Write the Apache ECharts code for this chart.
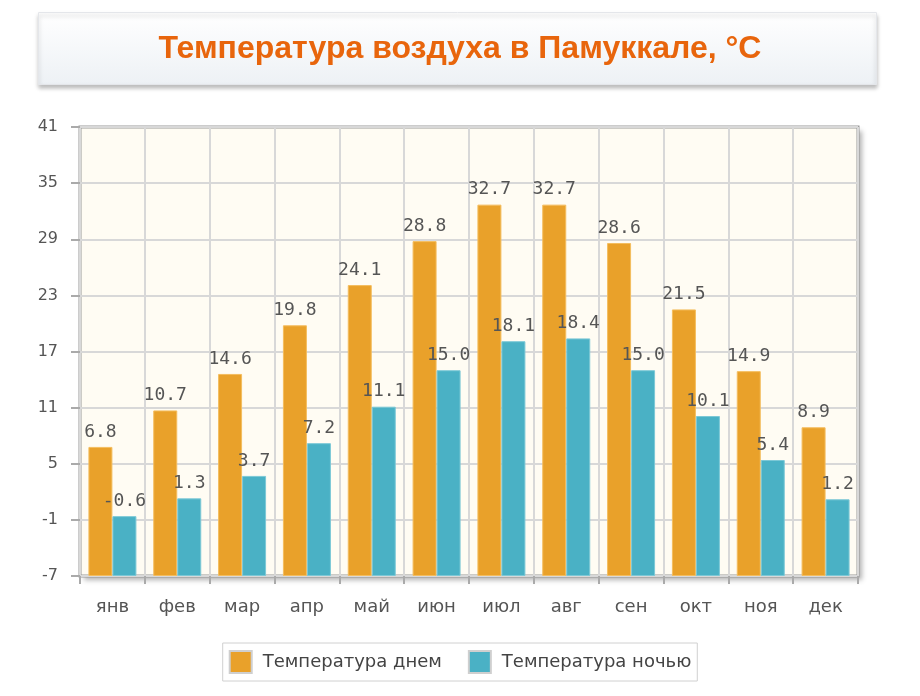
<!DOCTYPE html>
<html>
<head>
<meta charset="utf-8">
<script src="https://cdn.jsdelivr.net/npm/echarts@6/dist/echarts.min.js"></script>
<style>html,body{margin:0;padding:0;background:#fff;}#c{width:920px;height:696px;}</style>
</head>
<body>
<div id="c"></div>
<script>
const titleText = 'Температура воздуха в Памуккале, °C';
const months = ['янв','фев','мар','апр','май','июн','июл','авг','сен','окт','ноя','дек'];
const dayName = 'Температура днем';
const nightName = 'Температура ночью';
const dayTemps = [6.8, 10.7, 14.6, 19.8, 24.1, 28.8, 32.7, 32.7, 28.6, 21.5, 14.9, 8.9];
const nightTemps = [-0.6, 1.3, 3.7, 7.2, 11.1, 15.0, 18.1, 18.4, 15.0, 10.1, 5.4, 1.2];
const yMin = -7, yMax = 41, yStep = 6;

const chart = echarts.init(document.getElementById('c'), null, {renderer: 'canvas'});
const labelStyle = {
  show: true, position: 'top', distance: 6,
  fontFamily: 'DejaVu Sans Mono', fontSize: 18, color: '#555',
  formatter: p => p.value.toFixed(1)
};
chart.setOption({
  animation: false,
  graphic: [
    {
      type: 'rect', left: 38, top: 12, z: 0,
      shape: {width: 838, height: 72},
      style: {
        fill: new echarts.graphic.LinearGradient(0, 0, 0, 1, [
          {offset: 0, color: '#ffffff'}, {offset: 1, color: '#edf1f5'}
        ]),
        stroke: '#e4e6ea', lineWidth: 1,
        shadowBlur: 4, shadowOffsetY: 3, shadowColor: 'rgba(0,0,0,0.25)'
      }
    },
    {
      type: 'text', left: 'center', top: 33, z: 1,
      style: {
        text: titleText, fill: '#E8650C',
        font: 'bold 32px "Liberation Sans", Arial, sans-serif'
      }
    },
    {
      type: 'rect', left: 80, top: 127, z: -10,
      shape: {width: 778, height: 449},
      style: {
        fill: '#FFFCF3',
        shadowBlur: 5, shadowOffsetX: 4, shadowOffsetY: 4, shadowColor: 'rgba(0,0,0,0.3)'
      }
    }
  ],
  grid: {
    left: 80, right: 62, top: 127, bottom: 120,
    show: true, backgroundColor: 'transparent',
    borderColor: '#999', borderWidth: 3
  },
  legend: {
    bottom: 15, left: 'center',
    data: [dayName, nightName],
    icon: 'rect',
    itemWidth: 22, itemHeight: 22, itemGap: 26,
    borderColor: '#d0d0d0', borderWidth: 1, padding: [7, 6, 7, 6],
    itemStyle: {borderColor: '#cfcfcf', borderWidth: 2},
    textStyle: {fontFamily: 'DejaVu Sans', fontSize: 18, color: '#444', padding: [0, 0, 0, 6]}
  },
  xAxis: {
    type: 'category', data: months,
    axisLine: {show: false, onZero: false},
    axisTick: {show: true, length: 8, lineStyle: {color: '#aaa', width: 2}},
    splitLine: {show: true, lineStyle: {color: '#d8d8d8', width: 2}},
    axisLabel: {margin: 22, fontFamily: 'DejaVu Sans', fontSize: 18, color: '#555'}
  },
  yAxis: {
    type: 'value', min: yMin, max: yMax, interval: yStep, startValue: yMin,
    axisLine: {show: false},
    axisTick: {show: true, length: 9, lineStyle: {color: '#aaa', width: 2}},
    splitLine: {show: true, lineStyle: {color: '#d8d8d8', width: 2}},
    axisLabel: {margin: 22, fontFamily: 'DejaVu Sans', fontSize: 16, color: '#555'}
  },
  series: [
    {
      name: dayName, type: 'bar', data: dayTemps, barWidth: 24, barGap: '0%',
      itemStyle: {color: '#E9A12A', borderColor: '#F4BD5E', borderWidth: 1},
      label: labelStyle
    },
    {
      name: nightName, type: 'bar', data: nightTemps, barWidth: 24,
      itemStyle: {color: '#4AB1C5', borderColor: '#7CC8D6', borderWidth: 1},
      label: labelStyle
    }
  ]
});
</script>
</body>
</html>
